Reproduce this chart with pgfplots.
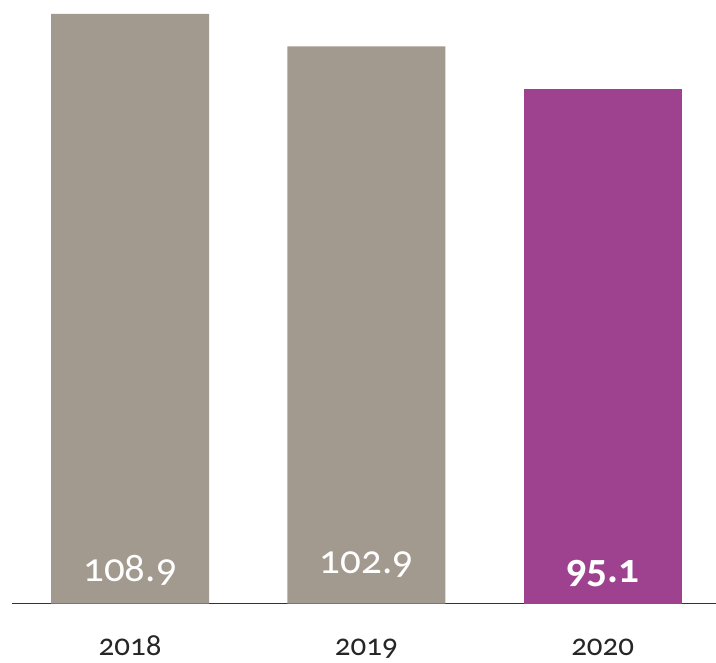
\documentclass[border=0pt]{standalone}
\usepackage{fontspec}
\setmainfont{Carlito}[RawFeature={+onum}]
\newfontfamily\cf{Carlito}[RawFeature={+onum}]
\usepackage{pgfplots}
\pgfplotsset{compat=1.18}
\definecolor{barg}{HTML}{A39A8F}
\definecolor{barp}{HTML}{9E418F}
\begin{document}
\begin{tikzpicture}[x=1pt,y=1pt]
\begin{axis}[
  at={(12pt,57pt)}, anchor=south west,
  scale only axis, width=704pt, height=604pt,
  xmin=-0.5, xmax=2.478, ymin=0, ymax=111.48,
  axis x line*=bottom, axis y line=none,
  x axis line style={draw=black!80, line width=0.8pt, -},
  ybar, bar width=0.668,
  xtick={0,1,2}, xticklabels={2018,2019,2020},
  xtick style={draw=none},
  xticklabel style={font=\cf\fontsize{31}{31}\selectfont, text=black!85, anchor=base, yshift=-48pt},
  clip=false,
]
\addplot[barg, fill=barg, draw=none, bar shift=0pt] coordinates {(0,108.9) (1,102.9)};
\addplot[barp, fill=barp, draw=none, bar shift=0pt] coordinates {(2,95.1)};
\node[anchor=base, text=white, font=\cf\fontsize{41}{41}\selectfont] at (axis cs:0,4.06) {108.9};
\node[anchor=base, text=white, font=\cf\fontsize{41}{41}\selectfont] at (axis cs:1,5.54) {102.9};
\node[anchor=base, text=white, font=\cf\bfseries\fontsize{41}{41}\selectfont] at (axis cs:2,3.9) {95.1};
\end{axis}
\path[use as bounding box] (0,0) rectangle (716,661);
\end{tikzpicture}
\end{document}
